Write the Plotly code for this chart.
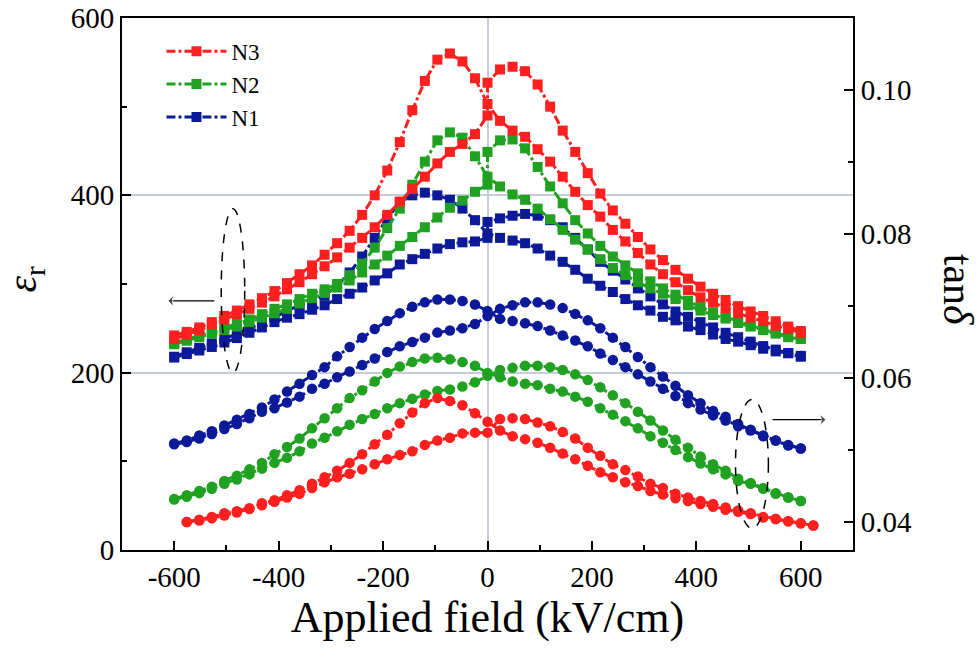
import plotly.graph_objects as go

# applied field (kV/cm), measured every 24 kV/cm
FIELD = list(range(-600, 601, 24))
# the upward sweep has two readings at 0 kV/cm
FIELD_UP = FIELD[:26] + [0] + FIELD[26:]
FIELD_RED_TAN = list(range(-576, 625, 24))

# dielectric constant (left axis), sweep down (peak at negative field)
N3_ER_DOWN = [242, 246, 251, 257, 264, 270, 277, 284, 292, 301, 311, 321, 333, 346, 360, 378, 400,
              428, 460, 496, 529, 553, 560, 551, 532, 503, 484, 473, 466, 452, 438, 421, 404, 389,
              376, 361, 348, 335, 322, 311, 302, 293, 285, 279, 273, 267, 262, 258, 253, 249, 245]
N2_ER_DOWN = [233, 238, 242, 246, 251, 255, 260, 266, 272, 277, 283, 289, 294, 300, 310, 323, 341,
              363, 385, 412, 438, 462, 471, 465, 444, 421, 410, 401, 395, 385, 373, 361, 350, 339,
              328, 318, 310, 302, 295, 289, 283, 276, 270, 265, 261, 256, 252, 248, 244, 240, 238]
N1_ER_DOWN = [218, 223, 228, 233, 238, 244, 250, 256, 262, 270, 276, 281, 287, 298, 313, 331, 352,
              374, 392, 400, 403, 400, 395, 385, 372, 357, 352, 349, 346, 340, 332, 325, 316, 306,
              298, 291, 283, 276, 270, 263, 259, 252, 248, 243, 238, 235, 231, 227, 224, 222, 218]

# dielectric constant, sweep up (peak at positive field)
N3_ER_UP = [238, 243, 248, 254, 260, 266, 272, 279, 286, 294, 302, 311, 320, 330, 341, 352, 364,
            378, 393, 407, 421, 436, 449, 458, 469, 490, 527, 542, 545, 540, 525, 500, 473, 449,
            425, 402, 383, 368, 353, 339, 327, 316, 306, 297, 289, 282, 275, 269, 264, 258, 252, 247]
N2_ER_UP = [232, 236, 240, 244, 248, 252, 257, 262, 267, 272, 278, 284, 290, 296, 304, 313, 322,
            332, 343, 353, 364, 375, 386, 394, 404, 412, 449, 462, 463, 453, 432, 410, 391, 372,
            357, 343, 331, 321, 312, 303, 295, 288, 281, 274, 268, 263, 258, 253, 249, 245, 241, 238]
N1_ER_UP = [217, 221, 225, 229, 234, 239, 245, 251, 257, 262, 266, 271, 276, 283, 289, 296, 304,
            312, 322, 328, 334, 340, 345, 347, 348, 352, 370, 374, 377, 379, 377, 372, 364, 352,
            339, 325, 315, 305, 295, 286, 277, 269, 263, 257, 251, 245, 240, 235, 230, 226, 222, 219]

# loss tangent (right axis)
N3_TAN_DOWN = [.0400, .0403, .0407, .0412, .0415, .0419, .0426, .0430, .0437, .0444, .0453, .0462,
               .0471, .0482, .0494, .0508, .0521, .0537, .0552, .0565, .0572, .0568, .0562, .0551,
               .0539, .0527, .0519, .0515, .0510, .0503, .0495, .0487, .0478, .0469, .0462, .0455,
               .0450, .0443, .0438, .0433, .0429, .0425, .0421, .0417, .0414, .0411, .0406, .0404,
               .0401, .0398, .0395]
N3_TAN_UP = [.0400, .0402, .0405, .0409, .0413, .0418, .0423, .0428, .0434, .0439, .0447, .0455,
             .0462, .0467, .0473, .0480, .0487, .0493, .0498, .0507, .0513, .0517, .0523, .0524,
             .0524, .0543, .0544, .0543, .0538, .0533, .0525, .0516, .0503, .0492, .0480, .0472,
             .0463, .0453, .0447, .0439, .0434, .0429, .0425, .0420, .0416, .0412, .0407, .0404,
             .0401, .0398, .0395]
N2_TAN_DOWN = [.0432, .0437, .0443, .0449, .0457, .0464, .0473, .0482, .0494, .0504, .0516, .0530,
               .0544, .0558, .0572, .0583, .0595, .0607, .0616, .0622, .0627, .0628, .0626, .0622,
               .0617, .0607, .0601, .0595, .0592, .0590, .0585, .0581, .0574, .0567, .0558, .0549,
               .0540, .0530, .0519, .0510, .0500, .0490, .0481, .0473, .0466, .0457, .0453, .0446,
               .0439, .0434, .0429]
N2_TAN_UP = [.0431, .0435, .0440, .0446, .0453, .0459, .0466, .0474, .0482, .0489, .0498, .0509,
             .0517, .0526, .0535, .0543, .0550, .0558, .0565, .0571, .0577, .0582, .0584, .0588,
             .0594, .0603, .0611, .0614, .0617, .0617, .0615, .0611, .0605, .0597, .0587, .0576,
             .0565, .0553, .0541, .0527, .0514, .0503, .0491, .0480, .0471, .0460, .0454, .0447,
             .0440, .0434, .0429]
N1_TAN_DOWN = [.0509, .0513, .0520, .0526, .0534, .0542, .0550, .0559, .0570, .0581, .0592, .0604,
               .0615, .0630, .0643, .0656, .0668, .0679, .0690, .0699, .0705, .0709, .0709, .0707,
               .0702, .0693, .0682, .0679, .0676, .0672, .0666, .0659, .0652, .0644, .0634, .0625,
               .0615, .0605, .0595, .0585, .0575, .0565, .0556, .0548, .0541, .0533, .0527, .0519,
               .0513, .0506, .0502]
N1_TAN_UP = [.0508, .0511, .0516, .0522, .0529, .0536, .0544, .0553, .0558, .0566, .0574, .0585,
             .0592, .0601, .0609, .0618, .0627, .0636, .0644, .0650, .0656, .0663, .0666, .0669,
             .0675, .0686, .0696, .0701, .0705, .0705, .0702, .0697, .0689, .0680, .0669, .0656,
             .0643, .0629, .0615, .0602, .0589, .0576, .0565, .0554, .0546, .0536, .0528, .0520,
             .0513, .0507, .0502]

X_TICKS = [-600, -400, -200, 0, 200, 400, 600]
X_LABELS = ["-600", "-400", "-200", "0", "200", "400", "600"]
ER_TICKS = [0, 200, 400, 600]
TAN_TICKS = [0.04, 0.06, 0.08, 0.10]
TAN_LABELS = ["0.04", "0.06", "0.08", "0.10"]

SAMPLES = [
    # name, colour, er down, er up, tan x, tan down, tan up
    ("N1", "#0c1a99", N1_ER_DOWN, N1_ER_UP, FIELD, N1_TAN_DOWN, N1_TAN_UP),
    ("N2", "#21a121", N2_ER_DOWN, N2_ER_UP, FIELD, N2_TAN_DOWN, N2_TAN_UP),
    ("N3", "#ff1f1f", N3_ER_DOWN, N3_ER_UP, FIELD_RED_TAN, N3_TAN_DOWN, N3_TAN_UP),
]

FONT = "Liberation Serif, Times New Roman, serif"

fig = go.Figure()
for name, col, er_down, er_up, tx, tan_down, tan_up in SAMPLES:
    line = dict(color=col, width=3, dash="dashdot")
    sq = dict(symbol="square", size=10, color=col)
    ci = dict(symbol="circle", size=10.5, color=col)
    fig.add_trace(go.Scatter(x=FIELD, y=er_down, mode="lines+markers", name=name,
                             legendgroup=name, line=line, marker=sq))
    fig.add_trace(go.Scatter(x=FIELD_UP, y=er_up, mode="lines+markers", name=name,
                             legendgroup=name, showlegend=False, line=line, marker=sq))
    fig.add_trace(go.Scatter(x=tx, y=tan_down, yaxis="y2", mode="lines+markers", name=name,
                             legendgroup=name, showlegend=False, line=line, marker=ci))
    fig.add_trace(go.Scatter(x=tx, y=tan_up, yaxis="y2", mode="lines+markers", name=name,
                             legendgroup=name, showlegend=False, line=line, marker=ci))

# the two arrows that tell which axis the curves belong to
arrow = dict(color="black", width=1.3)
fig.add_trace(go.Scatter(x=[-523, -612], y=[281, 281], mode="lines+markers", line=arrow,
                         marker=dict(symbol="arrow-wide", size=[0, 11], angleref="previous",
                                     color="black"),
                         showlegend=False, hoverinfo="skip"))
fig.add_trace(go.Scatter(x=[546, 648], y=[0.0542, 0.0542], yaxis="y2", mode="lines+markers",
                         line=arrow,
                         marker=dict(symbol="arrow-wide", size=[0, 11], angleref="previous",
                                     color="black"),
                         showlegend=False, hoverinfo="skip"))

axis_common = dict(
    showline=True, linecolor="black", linewidth=2,
    ticks="inside", ticklen=9, tickwidth=2, tickcolor="black",
    tickfont=dict(family=FONT, size=29, color="black"),
    ticklabeloverflow="allow",
)
minor = dict(ticks="inside", ticklen=5, tickwidth=2, tickcolor="black")

fig.update_layout(
    width=980, height=668,
    margin=dict(l=122, r=127, t=18, b=118),
    paper_bgcolor="white", plot_bgcolor="white",
    font=dict(family=FONT, color="black"),
    showlegend=True,
    legend=dict(x=0.054, y=0.978, xanchor="left", yanchor="top", traceorder="reversed",
                font=dict(family=FONT, size=23), bgcolor="rgba(0,0,0,0)",
                itemwidth=60, tracegroupgap=0),
    xaxis=dict(
        range=[-700, 700], tickmode="array", tickvals=X_TICKS, ticktext=X_LABELS, mirror=True,
        showgrid=False, zeroline=True, zerolinecolor="#c5ced6", zerolinewidth=1.5,
        minor=dict(dtick=100, **minor),
        title=dict(text="Applied field (kV/cm)", font=dict(family=FONT, size=44), standoff=8),
        **axis_common,
    ),
    yaxis=dict(
        range=[0, 600], tickmode="array", tickvals=ER_TICKS, automargin=False,
        showgrid=True, gridcolor="#c5ced6", gridwidth=1.5, zeroline=False,
        minor=dict(tickmode="array", tickvals=[100, 300, 500], **minor),
        **axis_common,
    ),
    yaxis2=dict(
        range=[0.0361, 0.110], overlaying="y", side="right", tickmode="array", automargin=False,
        tickvals=TAN_TICKS, ticktext=TAN_LABELS, showgrid=False, zeroline=False,
        minor=dict(tickmode="array", tickvals=[0.05, 0.07, 0.09], **minor),
        **axis_common,
    ),
    annotations=[
        dict(text="<i>ε</i><sub>r</sub>", xref="paper", yref="paper", x=-0.133, y=0.51,
             xanchor="center", yanchor="middle", showarrow=False, textangle=-90,
             font=dict(family=FONT, size=42)),
        dict(text="tan<i>δ</i>", xref="paper", yref="paper", x=1.143, y=0.49,
             xanchor="center", yanchor="middle", showarrow=False, textangle=90,
             font=dict(family=FONT, size=42)),
    ],
    shapes=[
        dict(type="circle", xref="x", yref="y", x0=-510, x1=-465, y0=200, y1=385,
             line=dict(color="black", width=1.5, dash="dash")),
        dict(type="circle", xref="x", yref="y2", x0=475, x1=538, y0=0.0391, y1=0.0570,
             line=dict(color="black", width=1.5, dash="dash")),
    ],
)

fig.write_html("out.html", config={"displayModeBar": False},
               post_script="document.body.style.margin='0';")
